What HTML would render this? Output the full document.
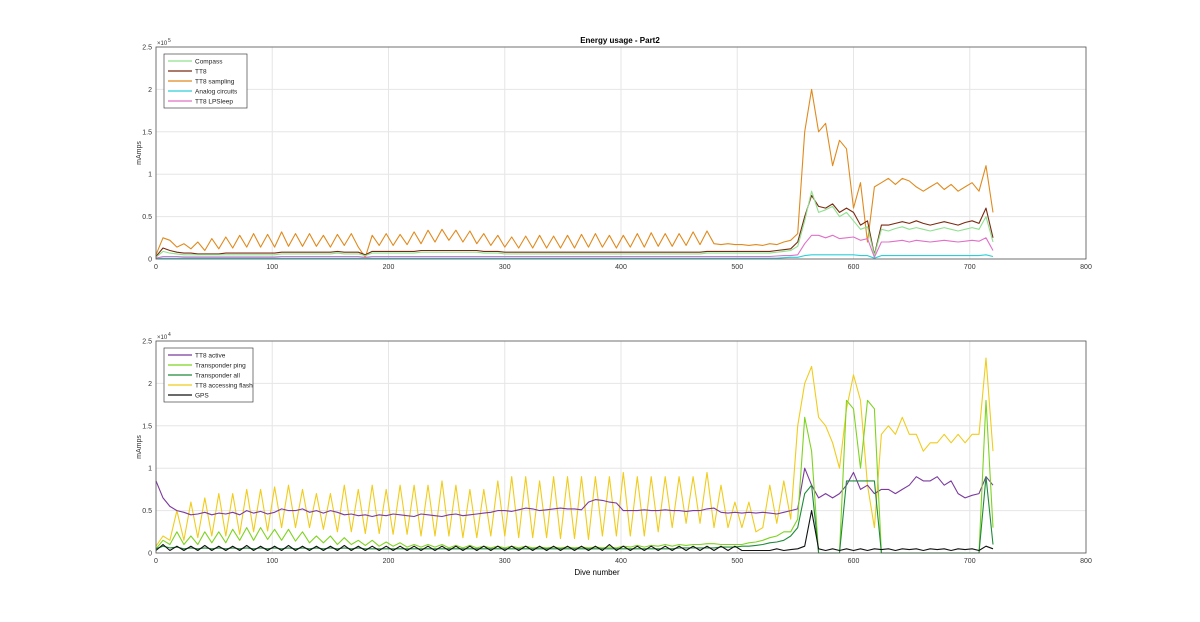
<!DOCTYPE html>
<html><head><meta charset="utf-8"><style>
html,body{margin:0;padding:0;background:#fff;}
svg{display:block;font-family:"Liberation Sans",sans-serif;}
</style></head><body>
<svg id="chart" width="1200" height="622" xmlns="http://www.w3.org/2000/svg">
<rect width="1200" height="622" fill="#fff"/>
<text x="620" y="43" font-size="8" font-weight="bold" text-anchor="middle">Energy usage - Part2</text>
<text x="597" y="575" font-size="8" text-anchor="middle">Dive number</text>
<g id="top"></g>
<g id="bot"></g>
</svg>
<script>
const STEP = 6;
const xTicks = [0,100,200,300,400,500,600,700,800];
const yTicks = [0,0.5,1,1.5,2,2.5];
// top panel values in units of 1e3 mAmps (axis label x10^5)
const compass = [2,9,7,6,5,5,5,5,5,5, 5,5,5,5,5,5,5,5,6,6, 6,6,6,6,6,6,7,6,6,6, 4,7,7,7,7,7,7,7,8,8, 8,8,8,8,8,8,8,7,7,7, 6,6,6,6,6,6,6,6,6,6, 6,6,6,6,6,6,6,6,6,6, 6,6,6,6,6,6,6,6,6,7, 7,7,7,7,7,7,7,7,7,8, 9,10,
 15,45,80,55,58,62,50,55,45,35,38,4,35,33,36,38,35,37,35,33,35,37,35,33,35,37,35,50,20];
const tt8 = [3,13,10,8,7,7,6,6,6,6, 7,7,7,7,7,7,7,7,8,8, 8,8,8,8,8,8,9,8,8,8, 5,9,9,9,9,9,9,9,10,10, 10,10,10,10,10,10,10,9,9,9, 8,8,8,8,8,8,8,8,8,8, 8,8,8,8,8,8,8,8,8,8, 8,8,8,8,8,8,8,8,8,9, 9,9,9,9,9,9,9,9,9,10, 11,12,
 20,50,75,62,60,65,55,60,55,40,45,5,40,40,42,44,42,45,42,40,42,44,42,40,43,45,42,60,25];
const tt8Sampling = [5,25,22,14,18,12,20,10,24,12, 26,13,28,14,30,14,29,14,32,15, 30,15,30,15,28,14,29,16,30,14, 2,28,16,30,16,29,17,32,18,34, 20,35,22,34,20,33,18,30,16,28, 14,26,13,27,13,28,13,27,13,28, 13,29,14,30,14,28,13,28,14,30, 14,31,15,30,15,30,16,32,17,33, 18,17,18,17,17,16,17,16,18,17, 20,22,
 30,150,200,150,160,110,140,130,60,90,20,85,90,95,88,95,92,85,80,85,90,82,88,80,85,90,80,110,55];
const analog = [0.5,1,1,1,1,1,1,1,1,1, 1,1,1,1,1,1,1,1,1,1, 1,1,1,1,1,1,1,1,1,1, 1,1,1,1,1,1,1,1,1,1, 1,1,1,1,1,1,1,1,1,1, 1,1,1,1,1,1,1,1,1,1, 1,1,1,1,1,1,1,1,1,1, 1,1,1,1,1,1,1,1,1,1, 1,1,1,1,1,1,1,1,1,1, 1.5,2,
 2,4,5,5,5,5,5,5,5,4,4,1,4,4,4,4,4,4,4,4,4,4,4,4,4,4,4,5,3];
const lpsleep = [1,3,3,3,2.5,2.5,2.5,2.5,2.5,2.5, 2.5,2.5,2.5,2.5,2.5,2.5,2.5,2.5,3,3, 3,3,3,3,3,3,3,3,3,3, 2,3,3,3,3,3,3,3,3,3, 3,3,3,3,3,3,3,3,3,3, 3,3,3,3,3,3,3,3,3,3, 3,3,3,3,3,3,3,3,3,3, 3,3,3,3,3,3,3,3,3,3, 3,3,3,3,3,3,3,3,3,3.5, 4,4,
 5,18,28,28,25,28,24,25,26,22,24,2,20,20,21,22,20,22,21,20,21,22,21,20,21,22,21,25,10];
// bottom panel values in units of 1e3 mAmps (axis label x10^4)
const tt8Active = [8.5,6.5,5.5,5,4.8,4.5,4.6,4.8,4.5,4.7, 4.6,4.8,4.5,5,4.7,4.9,4.6,4.8,5.2,5, 5,5.2,4.8,5,4.7,5,4.8,4.5,4.6,4.4, 4.5,4.3,4.5,4.4,4.6,4.5,4.4,4.3,4.6,4.5, 4.4,4.3,4.5,4.6,4.4,4.5,4.6,4.7,4.8,5, 5,4.9,5.1,5.3,5.2,5,5.1,5.2,5.3,5.2, 5.2,5.1,6,6.3,6.2,6,5.9,5,5,5, 5.1,5,5,5.1,5,5,4.9,5,5,5.2, 5.3,4.8,4.7,4.8,4.7,4.8,4.7,4.8,4.7,4.6, 4.8,5,
 5.2,10,8,6.5,7,6.5,7,8,9.5,7.5,8,7,7.5,7.5,7,7.5,8,9,8.5,8.5,9,8,8.5,7,6.5,6.8,7,9,8];
const ping = [0.5,1.5,1,2.5,1,2,1,2.5,1.2,2.5, 1.2,2.8,1.5,3,1.5,3,1.6,2.8,1.5,2.8, 1.4,2.5,1.2,2,1.2,2,1,1.8,1,1.5, 0.9,1.5,0.8,1.3,0.8,1.2,0.7,1,0.7,1, 0.7,1,0.6,0.9,0.6,0.9,0.6,0.8,0.6,0.8, 0.6,0.8,0.6,0.8,0.6,0.7,0.6,0.7,0.6,0.7, 0.6,0.7,0.6,0.7,0.6,0.7,0.6,0.8,0.7,0.9, 0.7,0.9,0.8,1,0.8,1,0.9,1,1,1.1, 1.1,1,1,1,1,1.2,1.3,1.5,1.8,2, 2.5,2.5,
 4,16,12,0,0,0,0,18,17,10,18,17,0,0,0,0,0,0,0,0,0,0,0,0,0,0,0,18,3];
const transAll = [0.5,0.8,0.6,0.7,0.5,0.6,0.5,0.6,0.5,0.6, 0.5,0.6,0.5,0.6,0.5,0.6,0.5,0.6,0.5,0.6, 0.5,0.6,0.5,0.6,0.5,0.6,0.5,0.6,0.5,0.6, 0.5,0.5,0.5,0.5,0.5,0.5,0.5,0.5,0.5,0.5, 0.5,0.5,0.5,0.5,0.5,0.5,0.5,0.5,0.5,0.5, 0.5,0.5,0.5,0.5,0.5,0.5,0.5,0.5,0.5,0.5, 0.5,0.5,0.5,0.5,0.5,0.5,0.5,0.5,0.5,0.5, 0.5,0.5,0.5,0.5,0.5,0.6,0.6,0.6,0.6,0.6, 0.6,0.7,0.7,0.7,0.8,0.8,0.9,1,1.2,1.3, 1.5,2,
 3,7,8,0,0,0,0,8.5,8.5,8.5,8.5,8.5,0,0,0,0,0,0,0,0,0,0,0,0,0,0,0,9,1];
const flash = [0.8,2,1.5,5,1.5,6,1.8,6.5,2,7, 2,7,2.2,7.5,2.5,7.5,2.6,7.8,3,8, 3,7.5,3,7,2.8,7,2.5,8,2.5,7.5, 2.3,8,2.3,7.5,2.2,8,2.2,8,2,8, 2,8.5,2,8,1.8,7.5,1.8,7.5,2,8.5, 2,9,1.8,9,1.8,8.5,1.8,9,1.7,9, 1.7,9,1.6,9,2,9,2,9.5,2,9, 2,9,2.5,9,3,9,3.5,9,3.5,9.5, 3,8,3,6,3,6,2.5,3,8,3.5, 8.5,4,
 15,20,22,16,15,13,10,17,21,18,8,3,14,15,14,16,14,14,12,13,13,14,13,14,13,14,14,23,12];
const gps = [0.3,1,0.3,0.8,0.3,0.8,0.3,0.9,0.3,0.8, 0.3,0.8,0.3,0.9,0.3,0.8,0.3,0.8,0.3,0.9, 0.3,0.8,0.3,0.8,0.3,0.8,0.3,0.9,0.3,0.8, 0.3,0.8,0.3,0.8,0.3,0.8,0.3,0.8,0.3,0.8, 0.3,0.8,0.3,0.8,0.3,0.8,0.3,0.8,0.3,0.8, 0.3,0.8,0.3,0.8,0.3,0.8,0.3,0.8,0.3,0.8, 0.3,0.8,0.3,0.8,0.3,1,0.3,0.8,0.3,0.8, 0.3,0.8,0.3,0.8,0.3,0.8,0.3,0.8,0.3,0.8, 0.3,0.8,0.3,0.8,0.3,0.3,0.3,0.3,0.3,0.5, 0.3,0.4,
 0.5,0.8,5,0.5,0.3,0.5,0.3,0.5,0.3,0.5,0.3,0.5,0.4,0.5,0.3,0.5,0.4,0.5,0.3,0.5,0.4,0.5,0.3,0.5,0.4,0.5,0.3,0.8,0.5];

const NS = "http://www.w3.org/2000/svg";
function mk(tag, attrs, parent){const e=document.createElementNS(NS,tag);for(const k in attrs)e.setAttribute(k,attrs[k]);parent.appendChild(e);return e;}

function panel(g, top, bottom, scale, expText, series, colors, names, legNames, legColors, legW, legName){
  const L=156, R=1086;
  const xS = d => L + (d/800)*(R-L);
  const yS = v => bottom - (v/scale/2.5)*(bottom-top);
  xTicks.forEach(t=>{
    const gl = mk("line",{x1:xS(t),x2:xS(t),y1:top,y2:bottom,stroke:"#e6e6e6","stroke-width":1},g);
    
    
    const tl = mk("text",{x:xS(t),y:bottom+10,"font-size":7,"text-anchor":"middle",fill:"#333"},g);
    tl.textContent=t;
    
    
  });
  yTicks.forEach(t=>{
    const y = bottom - (t/2.5)*(bottom-top);
    const gl = mk("line",{x1:L,x2:R,y1:y,y2:y,stroke:"#e6e6e6","stroke-width":1},g);
    
    
    const tl = mk("text",{x:L-4,y:y+2.5,"font-size":7,"text-anchor":"end",fill:"#333"},g);
    tl.textContent=t;
    
    
  });
  const ex = mk("text",{x:L+1,y:top-2,"font-size":6,fill:"#333"},g);
  ex.textContent = "\u00d710";
  
  
  const sup = mk("text",{x:L+12,y:top-5,"font-size":5,fill:"#333"},g);
  sup.textContent = expText;
  
  
  const yl = mk("text",{x:0,y:0,"font-size":7,"text-anchor":"middle",fill:"#333",transform:`translate(141,${(top+bottom)/2}) rotate(-90)`},g);
  yl.textContent="mAmps";
  
  
  series.forEach((arr,si)=>{
    const pts = arr.map((v,i)=>xS(i*STEP).toFixed(1)+","+yS(v).toFixed(1)).join(" ");
    const pl = mk("polyline",{points:pts,fill:"none",stroke:colors[si],"stroke-width":1.1,"stroke-linejoin":"round"},g);
    
    
  });
  const box = mk("rect",{x:L,y:top,width:R-L,height:bottom-top,fill:"none",stroke:"#555","stroke-width":0.8},g);
  
  
  const lg = mk("g",{},g);
  
  
  const lx=164, ly=top+7;
  mk("rect",{x:lx,y:ly,width:legW,height:legNames.length*10+4,fill:"#fff",stroke:"#444","stroke-width":0.7},lg);
  legNames.forEach((n,i)=>{
    const yy = ly+7+i*10;
    const ln = mk("line",{x1:lx+4,x2:lx+28,y1:yy,y2:yy,stroke:legColors[i],"stroke-width":1.3},lg);
    
    
    const t = mk("text",{x:lx+31,y:yy+2.3,"font-size":6.5,fill:"#222"},lg);
    t.textContent=n;
    
    
  });
}
panel(document.getElementById("top"),47,259,100,"5",
  [tt8Sampling,tt8,compass,analog,lpsleep],
  ["#e08a1e","#7a2a10","#8fe08f","#2ccfd8","#e070c8"],
  ["TT8 sampling","TT8","Compass","Analog circuits","TT8 LPSleep"],
  ["Compass","TT8","TT8 sampling","Analog circuits","TT8 LPSleep"],
  ["#8fe08f","#7a2a10","#e08a1e","#2ccfd8","#e070c8"],83,"top-legend");
panel(document.getElementById("bot"),341,553,10,"4",
  [flash,tt8Active,ping,transAll,gps],
  ["#f0cc1c","#7b3a9e","#7ed321","#1f8a3a","#111111"],
  ["TT8 accessing flash","TT8 active","Transponder ping","Transponder all","GPS"],
  ["TT8 active","Transponder ping","Transponder all","TT8 accessing flash","GPS"],
  ["#7b3a9e","#7ed321","#1f8a3a","#f0cc1c","#111111"],89,"bottom-legend");
</script>
</body></html>
